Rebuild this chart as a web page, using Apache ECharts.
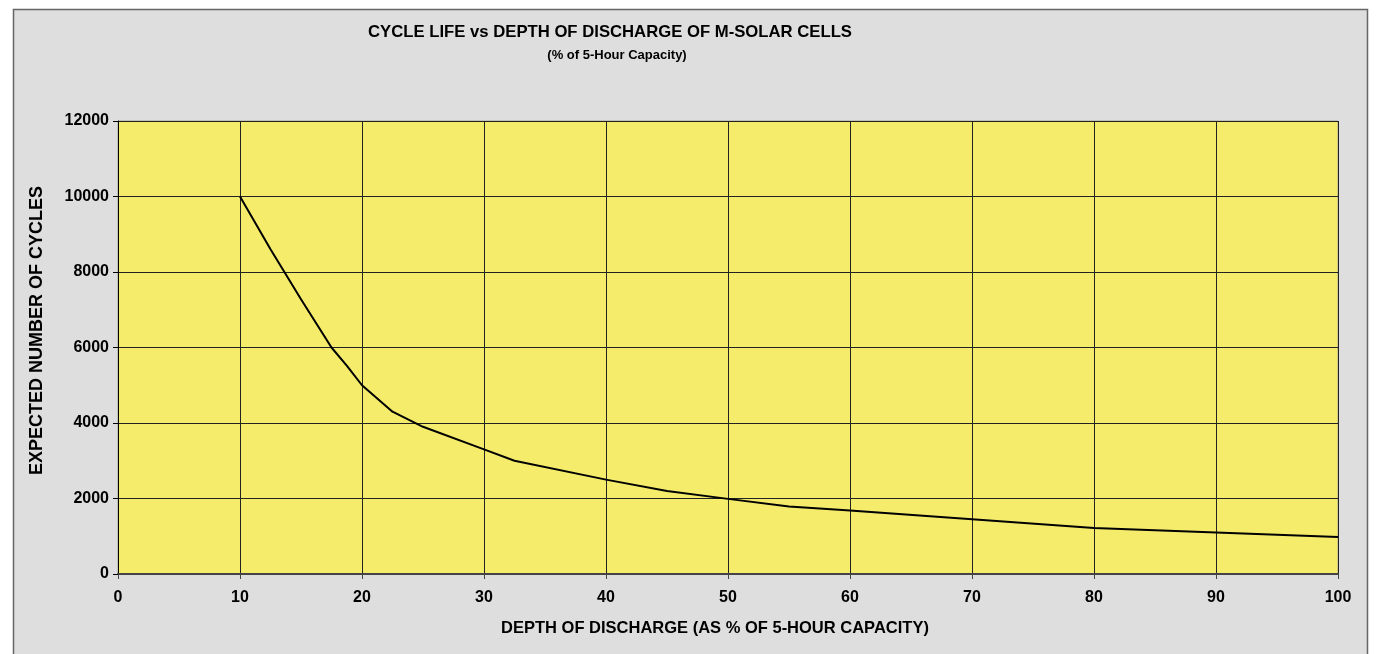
<!DOCTYPE html>
<html>
<head>
<meta charset="utf-8">
<script src="https://cdn.jsdelivr.net/npm/echarts@6/dist/echarts.min.js"></script>
<style>
html,body{margin:0;padding:0;background:#ffffff;}
#chart{width:1376px;height:654px;}
</style>
</head>
<body>
<div id="chart"></div>
<script>
const depthOfDischarge = [10, 12.5, 15, 17.5, 18.75, 20, 22.5, 25, 30, 32.5, 40, 45, 50, 55, 60, 70, 80, 90, 100];
const expectedCycles = [10000, 8600, 7280, 6000, 5520, 5000, 4300, 3900, 3300, 3000, 2500, 2200, 1990, 1790, 1680, 1450, 1220, 1100, 980];
const xTicks = [0, 10, 20, 30, 40, 50, 60, 70, 80, 90, 100];
const yTicks = [0, 2000, 4000, 6000, 8000, 10000, 12000];
const titleText = 'CYCLE LIFE vs DEPTH OF DISCHARGE OF M-SOLAR CELLS';
const subtitleText = '(% of 5-Hour Capacity)';
const xName = 'DEPTH OF DISCHARGE (AS % OF 5-HOUR CAPACITY)';
const yName = 'EXPECTED NUMBER OF CYCLES';

const points = depthOfDischarge.map((d, i) => [d, expectedCycles[i]]);
const font = '"Liberation Sans", Arial, sans-serif';

const chart = echarts.init(document.getElementById('chart'), null, {renderer: 'canvas'});
chart.setOption({
  backgroundColor: '#ffffff',
  animation: false,
  graphic: [{
    type: 'rect', z: -10, silent: true,
    shape: {x: 13.5, y: 9.5, width: 1354, height: 700},
    style: {fill: '#dedede', stroke: '#666666', lineWidth: 1.5}
  }],
  title: [{
    text: titleText,
    left: 605, top: 19, textAlign: 'center',
    textStyle: {fontFamily: font, fontWeight: 'bold', fontSize: 16.7, color: '#000'}
  }, {
    text: subtitleText,
    left: 612, top: 44, textAlign: 'center',
    textStyle: {fontFamily: font, fontWeight: 'bold', fontSize: 13, color: '#000'}
  }],
  grid: {
    left: 118, right: 38, top: 121, bottom: 80,
    show: true, backgroundColor: '#f5ec6c', borderColor: '#a8a290', borderWidth: 1
  },
  xAxis: {
    type: 'value', min: 0, max: 100, interval: 10,
    name: xName, nameLocation: 'middle', nameGap: 46,
    nameTextStyle: {fontFamily: font, fontWeight: 'bold', fontSize: 16.5, color: '#000', padding: [0, 26, 0, 0]},
    axisLine: {show: true, lineStyle: {color: '#444', width: 2}},
    axisTick: {show: true, length: 5, lineStyle: {color: '#444', width: 1}},
    axisLabel: {fontFamily: font, fontWeight: 'bold', fontSize: 16, color: '#000', margin: 16,
      formatter: v => xTicks.includes(v) ? String(v) : ''},
    splitLine: {show: true, lineStyle: {color: '#222', width: 1}}
  },
  yAxis: {
    type: 'value', min: 0, max: 12000, interval: 2000,
    name: yName, nameLocation: 'middle', nameGap: 72, nameRotate: 90,
    nameTextStyle: {fontFamily: font, fontWeight: 'bold', fontSize: 18, color: '#000', padding: [0, 0, 0, 34]},
    axisLine: {show: true, lineStyle: {color: '#000', width: 1}},
    axisTick: {show: true, length: 5, lineStyle: {color: '#000', width: 1}},
    axisLabel: {fontFamily: font, fontWeight: 'bold', fontSize: 16, color: '#000', margin: 9,
      formatter: v => yTicks.includes(v) ? String(v) : ''},
    splitLine: {show: true, lineStyle: {color: '#222', width: 1}}
  },
  series: [{
    type: 'line', data: points, showSymbol: false, symbol: 'none',
    lineStyle: {color: '#000', width: 2}
  }]
});
</script>
</body>
</html>
